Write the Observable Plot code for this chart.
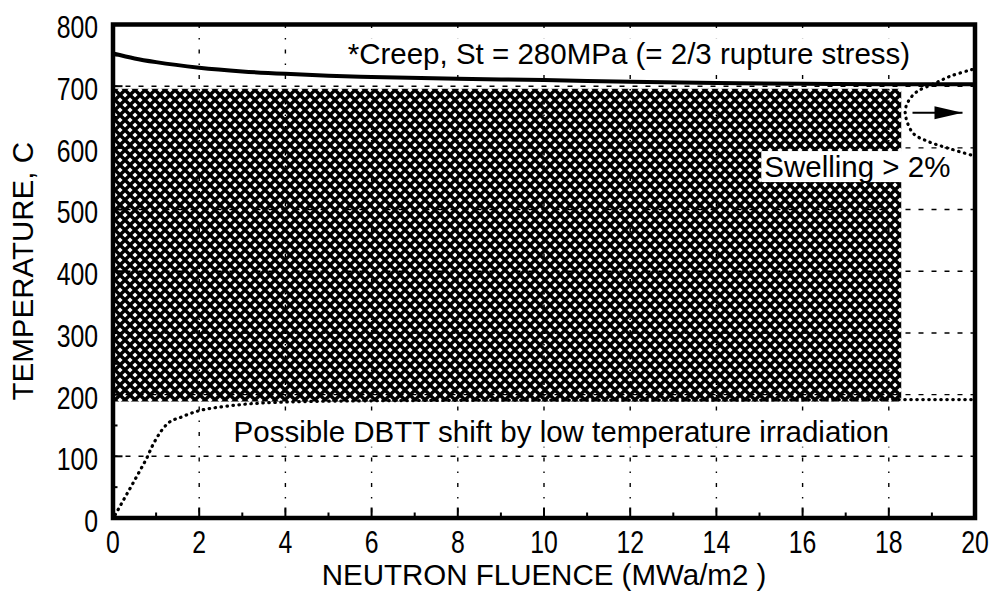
<!DOCTYPE html>
<html>
<head>
<meta charset="utf-8">
<script src="https://cdn.jsdelivr.net/npm/d3@7"></script>
<script src="https://cdn.jsdelivr.net/npm/@observablehq/plot@0.6"></script>
<style>
  html, body { margin: 0; padding: 0; background: #fff; }
</style>
</head>
<body>
<div id="chart"></div>
<script>
// Axis ticks
const fluenceTicks = [0, 2, 4, 6, 8, 10, 12, 14, 16, 18, 20];
const fluenceMinor = [1, 3, 5, 7, 9, 11, 13, 15, 17, 19];
const tempTicks = [0, 100, 200, 300, 400, 500, 600, 700, 800];
const tempMinor = [50, 150, 250, 350, 450, 550, 650, 750];

// Creep limit (St = 280 MPa)
const creepFluence = [0, 0.5, 1, 2, 3, 4, 5, 6, 8, 10, 12, 14, 16, 18, 20];
const creepTemp    = [753, 745, 739, 730, 724, 720, 717, 715, 712, 710, 707, 705, 704, 703, 703];

// DBTT shift boundary (low temperature irradiation)
const dbttFluence = [0.05, 0.25, 0.46, 0.65, 0.79, 0.9, 1.0, 1.25, 1.6, 2.0, 2.5, 3, 4, 6, 10, 14, 18, 20];
const dbttTemp    = [5, 30, 56, 80, 98, 115, 128, 152, 164, 174, 180, 184, 188, 190, 191, 191, 192, 192];

// Swelling > 2% boundary
const swellFluence = [19.93, 19.42, 19.05, 18.65, 18.45, 18.38, 18.56, 18.89, 19.35, 19.93];
const swellTemp    = [727, 716, 704, 691, 675, 657, 624, 611, 600, 588];

// Operating window (hatched)
const windowFluence = [0, 18.3];
const windowTemp = [188, 695];

// Arrow pointing to higher fluence
const arrowFluence = [18.55, 19.71];
const arrowTemp = 657;

// Annotations
const noteText = [
  "*Creep, St = 280MPa (= 2/3 rupture stress)",
  "Swelling > 2%",
  "Possible DBTT shift by low temperature irradiation"
];
const noteFluence = [11.97, 17.27, 10.4];
const noteTemp = [751, 568, 139];

const xTitle = "NEUTRON FLUENCE (MWa/m2 )";
const yTitle = "TEMPERATURE, C";

// Layout
const W = 994, H = 600;
const mL = 112.5, mR = 19.5, mT = 24, mB = 82.5;
const innerW = W - mL - mR, innerH = H - mT - mB;
const sans = "'Liberation Sans', Arial, Helvetica, sans-serif";

const windowRect = [{x1: windowFluence[0], x2: windowFluence[1], y1: windowTemp[0], y2: windowTemp[1]}];
const creep = creepFluence.map((f, i) => ({f, t: creepTemp[i]}));
const dbtt = dbttFluence.map((f, i) => ({f, t: dbttTemp[i]}));
const swell = swellFluence.map((f, i) => ({f, t: swellTemp[i]}));
const notes = noteText.map((text, i) => ({text, f: noteFluence[i], t: noteTemp[i]}));
const arrow = [{x1: arrowFluence[0], x2: arrowFluence[1], y: arrowTemp}];

// Long filled arrowhead, tip at the anchor point, pointing right
const arrowHead = {
  draw(context) {
    context.moveTo(0, 0);
    context.lineTo(-28, -6.5);
    context.lineTo(-28, 6.5);
    context.closePath();
  }
};

// Round dotted stroke for the boundary curves
const dotted = {stroke: "black", strokeWidth: 3.2, strokeDasharray: "0.5,5.5", strokeLinecap: "round"};

const chart = Plot.plot({
  width: W,
  height: H,
  marginLeft: mL,
  marginRight: mR,
  marginTop: mT,
  marginBottom: mB,
  x: {domain: [0, 20]},
  y: {domain: [0, 800]},
  style: {fontFamily: sans, background: "white", color: "black", overflow: "visible"},
  marks: [
    Plot.rect(windowRect, {x1: "x1", x2: "x2", y1: "y1", y2: "y2", fill: "url(#crosshatch)"}),
    Plot.ruleY(tempTicks.slice(1, -1), {y: d => d, stroke: "black", strokeWidth: 1.4, strokeDasharray: "5,8"}),
    Plot.ruleX(fluenceTicks.slice(1, -1), {x: d => d, stroke: "black", strokeWidth: 1.4, strokeDasharray: "4,10,1.5,10"}),
    Plot.line(creep, {x: "f", y: "t", stroke: "black", strokeWidth: 4, curve: "monotone-x"}),
    Plot.line(dbtt, {x: "f", y: "t", ...dotted, curve: "monotone-x"}),
    Plot.line(swell, {x: "f", y: "t", ...dotted, curve: "catmull-rom"}),
    Plot.link(arrow, {x1: "x1", x2: "x2", y1: "y", y2: "y", stroke: "black", strokeWidth: 2}),
    Plot.dot(arrow, {x: "x2", y: "y", symbol: arrowHead, fill: "black", stroke: "none"}),
    Plot.text(notes, {x: "f", y: "t", text: "text", fontSize: 29.5, fill: "black", lineAnchor: "middle"}),
    Plot.tickX(fluenceTicks.slice(1, -1), {x: d => d, insetTop: innerH - 10, stroke: "black", strokeWidth: 2}),
    Plot.tickX(fluenceMinor, {x: d => d, insetTop: innerH - 5, stroke: "black", strokeWidth: 2}),
    Plot.tickY(tempTicks.slice(1, -1), {y: d => d, insetRight: innerW - 10, stroke: "black", strokeWidth: 2}),
    Plot.tickY(tempMinor, {y: d => d, insetRight: innerW - 5, stroke: "black", strokeWidth: 2}),
    Plot.axisX({ticks: fluenceTicks, tickSize: 0, tickPadding: 13, fontSize: 31, label: null}),
    Plot.axisY({ticks: tempTicks, tickSize: 0, tickPadding: 15, fontSize: 31, dy: 4, label: null}),
    Plot.text([xTitle], {text: d => d, frameAnchor: "bottom", dy: 58, lineAnchor: "middle", fontSize: 29.5, fill: "black"}),
    Plot.text([yTitle], {text: d => d, frameAnchor: "left", textAnchor: "middle", rotate: -90, dx: -89, lineAnchor: "middle", fontSize: 29.5, fill: "black"}),
    Plot.frame({stroke: "black", strokeWidth: 4.5})
  ]
});

document.getElementById("chart").append(chart);

// Crosshatch fill for the operating window
const ns = "http://www.w3.org/2000/svg";
const defs = document.createElementNS(ns, "defs");
defs.innerHTML = `
  <pattern id="crosshatch" patternUnits="userSpaceOnUse" width="10" height="10">
    <rect width="10" height="10" fill="black"/>
    <path fill="white" d="M5,2.4L7.6,5L5,7.6L2.4,5Z M0,-2.6L2.6,0L0,2.6L-2.6,0Z M10,-2.6L12.6,0L10,2.6L7.4,0Z M0,7.4L2.6,10L0,12.6L-2.6,10Z M10,7.4L12.6,10L10,12.6L7.4,10Z"/>
  </pattern>`;
chart.insertBefore(defs, chart.firstChild);

// Condensed tick numerals
chart.querySelectorAll('g[aria-label="x-axis tick label"] text, g[aria-label="y-axis tick label"] text').forEach(t => {
  const tr = t.getAttribute("transform") || "";
  t.setAttribute("transform", tr + " scale(0.8,1)");
});

// White boxes behind the annotations
chart.querySelectorAll("text").forEach(t => {
  if (!noteText.includes(t.textContent)) return;
  const b = t.getBBox();
  const r = document.createElementNS(ns, "rect");
  r.setAttribute("x", b.x - 3);
  r.setAttribute("y", b.y + 1);
  r.setAttribute("width", b.width + 6);
  r.setAttribute("height", b.height - 2);
  r.setAttribute("fill", "white");
  r.setAttribute("stroke", "none");
  if (t.getAttribute("transform")) r.setAttribute("transform", t.getAttribute("transform"));
  t.parentNode.insertBefore(r, t);
});
</script>
</body>
</html>
